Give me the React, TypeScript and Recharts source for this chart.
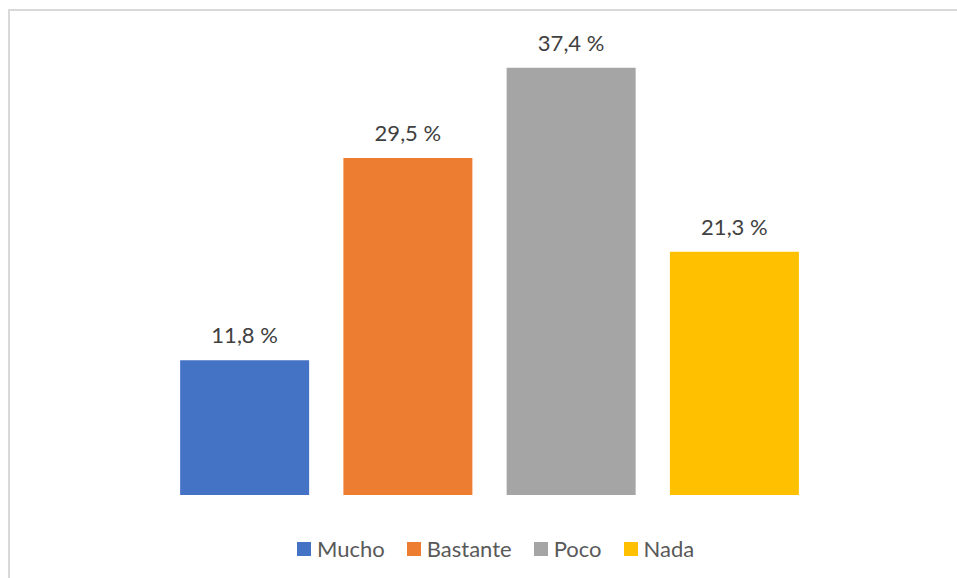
import { BarChart, Bar, XAxis, YAxis, Cell, LabelList } from "recharts";

const categories = ["Mucho", "Bastante", "Poco", "Nada"];
const values = [11.8, 29.5, 37.4, 21.3];
const colors = ["#4472C4", "#ED7D31", "#A5A5A5", "#FFC000"];

const data = categories.map((name, i) => ({ name, value: values[i] }));

const fmt = (v: number) => `${v.toFixed(1).replace(".", ",")} %`;

const font = "Lato, 'Open Sans', sans-serif";

// the picture is cut to the page content, so let it fill the whole window
if (typeof document !== "undefined") document.body.style.margin = "0";

export default function App() {
  return (
    <div style={{ position: "relative", width: 957, height: 578, overflow: "hidden", background: "#fff" }}>
      {/* chart frame: only its left and top edges fall inside the picture */}
      <div style={{ position: "absolute", left: 8, top: 9, width: 2, height: 600, background: "#d9d9d9" }} />
      <div style={{ position: "absolute", left: 8, top: 9, width: 1000, height: 2, background: "#d9d9d9" }} />
      <div style={{ position: "absolute", left: 10, top: 11 }}>
        <BarChart
          width={960}
          height={580}
          data={data}
          accessibilityLayer={false}
          margin={{ top: 27, right: 154, bottom: 96, left: 153 }}
          barCategoryGap="10.5%"
        >
          <XAxis dataKey="name" hide />
          <YAxis hide domain={[0, 40]} />
          <Bar dataKey="value" isAnimationActive={false}>
            {data.map((d, i) => (
              <Cell key={d.name} fill={colors[i]} />
            ))}
            <LabelList
              dataKey="value"
              position="top"
              offset={17}
              formatter={(v: any) => fmt(Number(v))}
              style={{ fill: "#404040", fontSize: 22, fontFamily: font }}
            />
          </Bar>
        </BarChart>
      </div>
      <div
        style={{
          position: "absolute",
          left: 297,
          top: 535,
          display: "flex",
          alignItems: "center",
          fontFamily: font,
          fontSize: 22,
          color: "#595959",
          whiteSpace: "nowrap",
        }}
      >
        {categories.map((c, i) => (
          <div key={c} style={{ display: "flex", alignItems: "center", marginRight: 22 }}>
            <span style={{ width: 14, height: 14, background: colors[i], marginRight: 6, display: "inline-block" }} />
            <span>{c}</span>
          </div>
        ))}
      </div>
    </div>
  );
}
